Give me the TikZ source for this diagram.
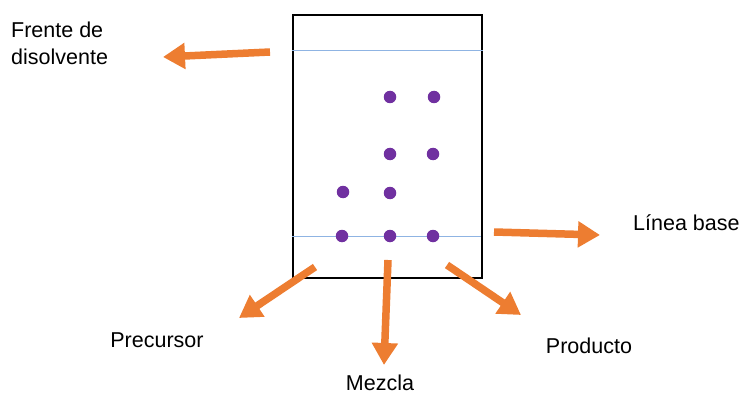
\documentclass[tikz,border=0pt]{standalone}
\usepackage{fontspec}
\setmainfont{Liberation Sans}
\usetikzlibrary{arrows.meta}
\definecolor{arroworange}{HTML}{ED7D31}
\definecolor{spotpurple}{HTML}{7030A0}
\definecolor{lineblue}{HTML}{8FB4E3}
\tikzset{
  bigarrow/.style={draw=arroworange, line width=7.5pt,
    -{Triangle[length=22pt,width=25pt]}},
  spot/.style={circle, fill=spotpurple, inner sep=0pt, minimum size=12.5pt},
  label/.style={font=\fontsize{21.5}{27}\selectfont, inner sep=0pt},
  guide/.style={draw=lineblue, line width=1pt}
}
\begin{document}
\begin{tikzpicture}[x=1pt, y=-1pt]
  \useasboundingbox (0,0) rectangle (744,393);
  % TLC plate
  \node[draw=black, line width=1.6pt, minimum width=189pt, minimum height=263pt,
        inner sep=0pt, anchor=north west] (plate) at (292,14) {};
  % solvent front and base line
  \coordinate (frontL) at (292,51);
  \coordinate (frontR) at (483,51);
  \coordinate (baseL) at (292,236);
  \coordinate (baseR) at (481,236);
  \draw[guide] (frontL) -- (frontR);
  \draw[guide] (baseL) -- (baseR);
  % spots
  \node[spot] (s1) at (390,97) {};
  \node[spot] (s2) at (434,97) {};
  \node[spot] (s3) at (390,154) {};
  \node[spot] (s4) at (433,154) {};
  \node[spot] (s5) at (343,192) {};
  \node[spot] (s6) at (390,193) {};
  \node[spot] (s7) at (342,236) {};
  \node[spot] (s8) at (390,236) {};
  \node[spot] (s9) at (433,236) {};
  % labels
  \node[label, anchor=base west] (front1) at (11,38) {Frente de};
  \node[label, anchor=base west] (front2) at (11,65) {disolvente};
  \node[label, anchor=base west] (base) at (633,230) {Línea base};
  \node[label, anchor=base] (prec) at (157,347) {Precursor};
  \node[label, anchor=base] (mix) at (380,390) {Mezcla};
  \node[label, anchor=base] (prod) at (589,353) {Producto};
  % arrow ends
  \coordinate (a1s) at (270,52);  \coordinate (a1e) at (163,57);
  \coordinate (a2s) at (494,232); \coordinate (a2e) at (600,235);
  \coordinate (a3s) at (315,267); \coordinate (a3e) at (239,318);
  \coordinate (a4s) at (388,260); \coordinate (a4e) at (384,365);
  \coordinate (a5s) at (447,265); \coordinate (a5e) at (521,315);
  \draw[bigarrow] (a1s) -- (a1e);
  \draw[bigarrow] (a2s) -- (a2e);
  \draw[bigarrow] (a3s) -- (a3e);
  \draw[bigarrow] (a4s) -- (a4e);
  \draw[bigarrow] (a5s) -- (a5e);
\end{tikzpicture}
\end{document}
